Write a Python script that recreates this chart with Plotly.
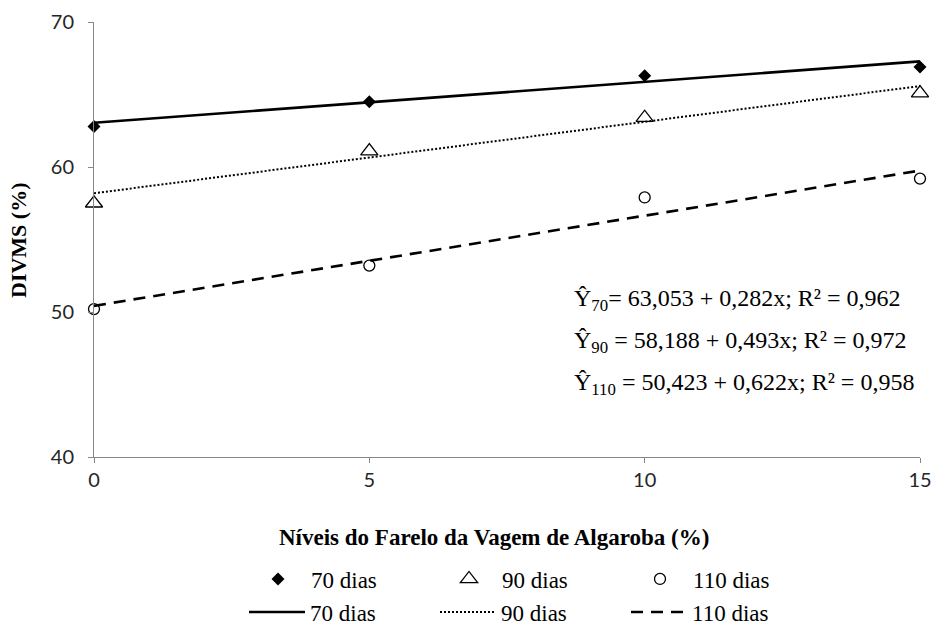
import plotly.graph_objects as go

# Data
niveis = [0, 5, 10, 15]
divms_70 = [62.8, 64.5, 66.3, 66.9]
divms_90 = [57.5, 61.1, 63.4, 65.1]
divms_110 = [50.2, 53.2, 57.9, 59.2]

# Regression coefficients printed on the chart
intercepts = [63.053, 58.188, 50.423]
slopes = [0.282, 0.493, 0.622]
trend_x = [0, 15]

labels = ["70 dias", "90 dias", "110 dias"]
equations = [
    "Ŷ<sub>70</sub>= 63,053 + 0,282x; R² = 0,962",
    "Ŷ<sub>90</sub> = 58,188 + 0,493x; R² = 0,972",
    "Ŷ<sub>110</sub> = 50,423 + 0,622x; R² = 0,958",
]

SERIF = "Liberation Serif, Times New Roman, serif"
SANS = "Lato, Liberation Sans, sans-serif"

fig = go.Figure()

marker_styles = [
    dict(symbol="diamond", size=10, color="black"),
    dict(symbol="triangle-up-open", size=15, color="black", line=dict(width=1.3, color="black")),
    dict(symbol="circle-open", size=11, color="black", line=dict(width=1.3, color="black")),
]
series = [divms_70, divms_90, divms_110]
for lab, ys, ms in zip(labels, series, marker_styles):
    fig.add_trace(go.Scatter(x=niveis, y=ys, mode="markers", name=lab,
                             marker=ms, cliponaxis=False, legend="legend"))

line_styles = [
    dict(color="black", width=2.6, dash="solid"),
    dict(color="black", width=2, dash="2px,2px"),
    dict(color="black", width=2.6, dash="12px,8px"),
]
for lab, a, b, ls in zip(labels, intercepts, slopes, line_styles):
    ty = [a + b * x for x in trend_x]
    fig.add_trace(go.Scatter(x=trend_x, y=ty, mode="lines", name=lab,
                             line=ls, cliponaxis=False, legend="legend2"))

W, H = 932, 628
L, R, T = 94, 12, 22
ph = 435
B = H - T - ph
pw = W - L - R

def px_x(p):
    return (p - L) / pw

def px_y(p):
    return (T + ph - p) / ph

annotations = []
for i, eq in enumerate(equations):
    annotations.append(dict(text=eq, xref="paper", yref="paper",
                            x=px_x(572), y=px_y(300 + 42 * i), xanchor="left", yanchor="middle",
                            showarrow=False, font=dict(family=SERIF, size=24, color="black")))
annotations.append(dict(text="<b>Níveis do Farelo da Vagem de Algaroba (%)</b>", xref="paper", yref="paper",
                        x=px_x(494), y=px_y(537), xanchor="center", yanchor="middle", showarrow=False,
                        font=dict(family=SERIF, size=23, color="black")))
annotations.append(dict(text="<b>DIVMS (%)</b>", xref="paper", yref="paper",
                        x=px_x(19), y=px_y(240), xanchor="center", yanchor="middle", showarrow=False,
                        textangle=-90, font=dict(family=SERIF, size=22, color="black")))

legend_common = dict(orientation="h", xanchor="left", yanchor="middle",
                     entrywidth=120, entrywidthmode="pixels", itemwidth=56,
                     bgcolor="rgba(0,0,0,0)", traceorder="normal",
                     font=dict(family=SERIF, size=23, color="black"))

fig.update_layout(
    width=W, height=H, autosize=False,
    margin=dict(l=L, r=R, t=T, b=B, autoexpand=False),
    plot_bgcolor="white", paper_bgcolor="white",
    showlegend=True,
    legend=dict(x=px_x(245), y=px_y(579), **legend_common),
    legend2=dict(x=px_x(244), y=px_y(612), **legend_common),
    annotations=annotations,
    xaxis=dict(range=[0, 15], tickvals=[0, 5, 10, 15], showgrid=False, zeroline=False,
               showline=True, linecolor="#868686", linewidth=1,
               ticks="outside", ticklen=5, tickcolor="#868686",
               tickfont=dict(family=SANS, size=20, color="#262626")),
    yaxis=dict(range=[40, 70], tickvals=[40, 50, 60, 70], showgrid=False, zeroline=False,
               showline=True, linecolor="#868686", linewidth=1,
               ticks="outside", ticklen=5, tickcolor="#868686", ticklabelstandoff=10,
               tickfont=dict(family=SANS, size=20, color="#262626")),
)

fig.write_html(
    "out.html",
    config={"displayModeBar": False},
    post_script="document.body.style.margin='0px';document.body.style.overflow='hidden';",
)
